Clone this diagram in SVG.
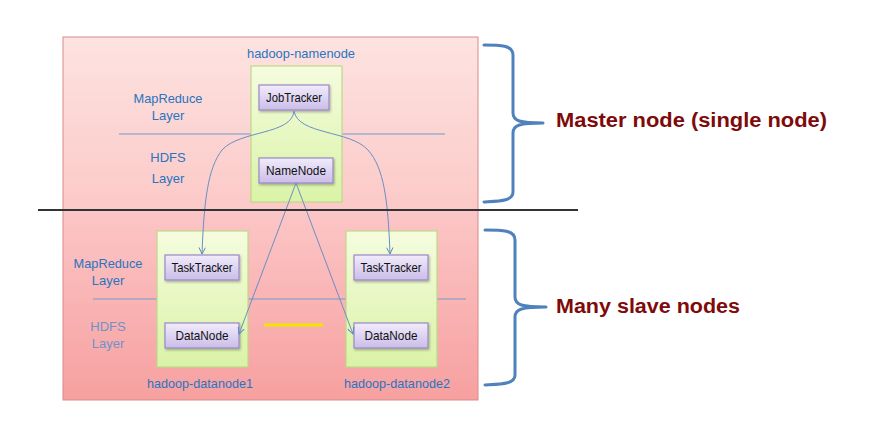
<svg xmlns="http://www.w3.org/2000/svg" width="873" height="422" viewBox="0 0 873 422">
<defs>
<linearGradient id="gTop" x1="0" y1="0" x2="0" y2="1"><stop offset="0" stop-color="#fde3e1"/><stop offset="1" stop-color="#fbc9c7"/></linearGradient>
<linearGradient id="gBot" x1="0" y1="0" x2="0" y2="1"><stop offset="0" stop-color="#fcc6c6"/><stop offset="1" stop-color="#f7a0a0"/></linearGradient>
<linearGradient id="gGreen" x1="0" y1="0" x2="0" y2="1"><stop offset="0" stop-color="#f5fcdf"/><stop offset="1" stop-color="#d9f3a6"/></linearGradient>
<linearGradient id="gPurple" x1="0" y1="0" x2="0" y2="1"><stop offset="0" stop-color="#f1ecfb"/><stop offset="1" stop-color="#cbbde9"/></linearGradient>
<marker id="arr" viewBox="0 0 10 10" refX="9" refY="5" markerWidth="8" markerHeight="8" orient="auto" markerUnits="userSpaceOnUse"><path d="M1,1 L9,5 L1,9" fill="none" stroke="#5b86c0" stroke-width="1.2"/></marker>
<filter id="sh" x="-20%" y="-20%" width="140%" height="150%"><feDropShadow dx="1" dy="1.5" stdDeviation="1" flood-color="#000" flood-opacity="0.3"/></filter>
</defs>
<style>
.outer{stroke:#d98a8a;stroke-width:1}
.host{fill:url(#gGreen);stroke:#bcd987;stroke-width:1.2}
.svc{fill:url(#gPurple);stroke:#9a88c6;stroke-width:1.2;filter:url(#sh)}
.svct{font-family:"Liberation Sans",Arial,sans-serif;font-size:13px;fill:#111;text-anchor:middle}
.lbl{font-family:"Liberation Sans",Arial,sans-serif;font-size:13px;fill:#2a74c0;text-anchor:middle}
.lbl2{font-family:"Liberation Sans",Arial,sans-serif;font-size:13px;fill:#6f93c8;text-anchor:middle}
.layer{stroke:#6f9bd0;stroke-width:1}
.conn{fill:none;stroke:#6a8fc4;stroke-width:1}
.brace{fill:none;stroke:#4f81bd;stroke-width:3;stroke-linecap:round;stroke-linejoin:round}
.big{font-family:"Liberation Sans",Arial,sans-serif;font-weight:bold;font-size:20px;fill:#7f0a0a}
</style>
<rect width="873" height="422" fill="#ffffff"/>
<g id="master-area">
<rect class="outer" x="63" y="37" width="415" height="173" fill="url(#gTop)"/>
</g>
<g id="slave-area">
<rect class="outer" x="63" y="210" width="415" height="190" fill="url(#gBot)"/>
</g>
<g id="layer-lines">
<line class="layer" x1="119" y1="134" x2="445" y2="134"/>
<line class="layer" x1="93" y1="299" x2="466" y2="299"/>
</g>
<g id="layer-labels">
<text class="lbl" x="168" y="103" textLength="69" lengthAdjust="spacingAndGlyphs">MapReduce</text>
<text class="lbl" x="168" y="120">Layer</text>
<text class="lbl" x="168" y="162">HDFS</text>
<text class="lbl" x="168" y="183">Layer</text>
<text class="lbl" x="108" y="268" textLength="69" lengthAdjust="spacingAndGlyphs">MapReduce</text>
<text class="lbl" x="108" y="285">Layer</text>
<text class="lbl2" x="108" y="331">HDFS</text>
<text class="lbl2" x="108" y="348">Layer</text>
</g>
<g id="hadoop-namenode">
<rect class="host" x="251" y="66" width="91" height="136"/>
<text class="lbl" x="301" y="58" textLength="108" lengthAdjust="spacingAndGlyphs">hadoop-namenode</text>
</g>
<g id="jobtracker">
<rect class="svc" x="259" y="85" width="70" height="25"/>
<text class="svct" x="294" y="102" textLength="56" lengthAdjust="spacingAndGlyphs">JobTracker</text>
</g>
<g id="namenode">
<rect class="svc" x="259" y="158" width="74" height="25"/>
<text class="svct" x="296" y="175" textLength="60" lengthAdjust="spacingAndGlyphs">NameNode</text>
</g>
<g id="hadoop-datanode1">
<rect class="host" x="157" y="231" width="91" height="136"/>
<text class="lbl" x="200" y="388" textLength="106" lengthAdjust="spacingAndGlyphs">hadoop-datanode1</text>
</g>
<g id="hadoop-datanode2">
<rect class="host" x="346" y="231" width="91" height="136"/>
<text class="lbl" x="397" y="388" textLength="106" lengthAdjust="spacingAndGlyphs">hadoop-datanode2</text>
</g>
<g id="tasktracker1">
<rect class="svc" x="165" y="255" width="74" height="25"/>
<text class="svct" x="202" y="272" textLength="61" lengthAdjust="spacingAndGlyphs">TaskTracker</text>
</g>
<g id="tasktracker2">
<rect class="svc" x="354" y="255" width="74" height="25"/>
<text class="svct" x="391" y="272" textLength="61" lengthAdjust="spacingAndGlyphs">TaskTracker</text>
</g>
<g id="datanode1">
<rect class="svc" x="165" y="323" width="74" height="25"/>
<text class="svct" x="202" y="340" textLength="53" lengthAdjust="spacingAndGlyphs">DataNode</text>
</g>
<g id="datanode2">
<rect class="svc" x="354" y="323" width="74" height="25"/>
<text class="svct" x="391" y="340" textLength="53" lengthAdjust="spacingAndGlyphs">DataNode</text>
</g>
<g id="ellipsis">
<line x1="264" y1="325" x2="323" y2="325" stroke="#f2e400" stroke-width="3"/>
</g>
<g id="connectors">
<path class="conn" marker-end="url(#arr)" d="M294,111 C292,135 240,130 222,150 C208,168 204,200 202,254"/>
<path class="conn" marker-end="url(#arr)" d="M294,111 C298,135 350,130 368,150 C384,168 388,200 390,254"/>
<path class="conn" marker-end="url(#arr)" d="M296,183 L239,334"/>
<path class="conn" marker-end="url(#arr)" d="M296,183 L353,334"/>
</g>
<g id="divider">
<line x1="38" y1="210" x2="578" y2="210" stroke="#333" stroke-width="2"/>
</g>
<g id="master-brace">
<path class="brace" d="M484,45 C500,45 513,45 513,55 L513,113 C513,121 520,123 543,123 M513,133 C513,125 520,123 543,123 M513,133 L513,192 C513,201 500,201 484,202"/>
<text class="big" x="556" y="127" textLength="271" lengthAdjust="spacingAndGlyphs">Master node (single node)</text>
</g>
<g id="slave-brace">
<path class="brace" d="M485,230 C502,230 515,230 515,240 L515,297 C515,305 522,307 546,307 M515,317 C515,309 522,307 546,307 M515,317 L515,375 C515,384 502,384 485,385"/>
<text class="big" x="556" y="313" textLength="184" lengthAdjust="spacingAndGlyphs">Many slave nodes</text>
</g>
</svg>
